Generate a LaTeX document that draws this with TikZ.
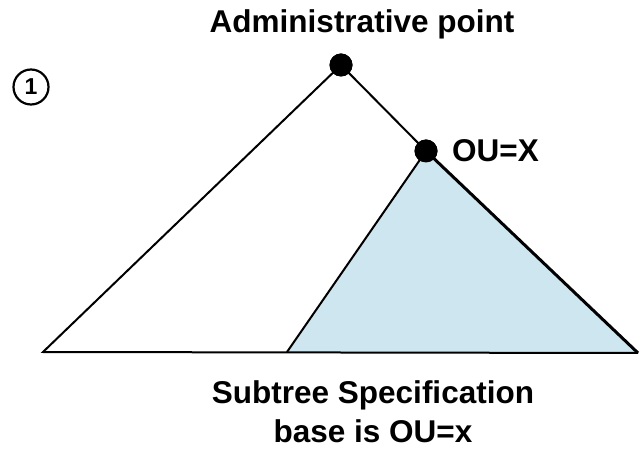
\documentclass[tikz,border=0pt]{standalone}
\usepackage{fontspec}
\setmainfont{Liberation Sans}
\usetikzlibrary{positioning}
\definecolor{subtreeblue}{RGB}{205,230,240}
\begin{document}
\begin{tikzpicture}[x=1pt, y=-1pt,
    dot/.style={circle, fill=black, inner sep=0pt, minimum size=23pt},
    edge/.style={line width=2pt, line join=miter},
    caption/.style={font=\fontsize{31.5}{39}\selectfont\bfseries, align=center, inner sep=0pt},
    num/.style={circle, draw, line width=2.2pt, minimum size=35pt, inner sep=0pt, font=\fontsize{23}{23}\selectfont\bfseries}
]
\useasboundingbox (0,0) rectangle (640,454);

% Base corners
\coordinate (leftbase) at (43,352);
\coordinate (midbase) at (287,352);
\coordinate (rightbase) at (638,353);

% Points
\node[dot] (admin) at (341,65) {};
\node[dot] (oux) at (426,151) {};

% Subtree below OU=X
\fill[subtreeblue] (oux.center) -- (midbase) -- (rightbase) -- cycle;
\draw[edge] (oux.center) -- (midbase);
\draw[line width=3pt] (oux.center) -- (rightbase);

% Whole tree
\draw[edge] (admin.center) -- (leftbase) -- (rightbase);
\draw[edge] (admin.center) -- (oux.center);
\node[dot] at (admin) {};
\node[dot] at (oux) {};

% Labels
\node[caption, anchor=base] (admintext) at (362,33) {Administrative point};
\node[caption, anchor=base west] (ouxtext) at (452,162) {OU=X};
\node[caption, anchor=base] (subtreetext) at (373,442) {Subtree Specification\\base is OU=x};
\node[num] (one) at (31,87) {1};

\end{tikzpicture}
\end{document}
